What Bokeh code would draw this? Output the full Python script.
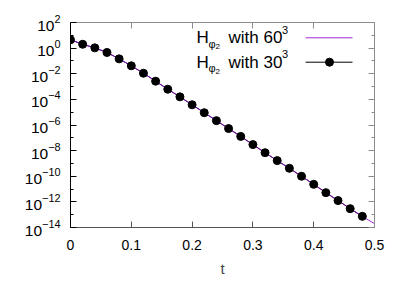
from bokeh.plotting import figure
from bokeh.models import (FixedTicker, LogAxis, LinearAxis, Label, ColumnDataSource,
                          CustomJSTickFormatter)
from bokeh.embed import file_html
from bokeh.resources import INLINE

# ---- data ----
t30 = [0.00, 0.02, 0.04, 0.06, 0.08, 0.10, 0.12, 0.14, 0.16, 0.18, 0.20, 0.22,
       0.24, 0.26, 0.28, 0.30, 0.32, 0.34, 0.36, 0.38, 0.40, 0.42, 0.44, 0.46, 0.48]
h30 = [4.47, 2.0, 1.05, 0.457, 0.145, 4.17e-2, 1.10e-2, 2.63e-3, 6.17e-4, 1.58e-4,
       3.8e-5, 9.1e-6, 2.19e-6, 5.25e-7, 1.29e-7, 2.95e-8, 6.92e-9, 1.66e-9,
       4.17e-10, 1.0e-10, 2.34e-11, 5.25e-12, 1.26e-12, 2.95e-13, 7.41e-14]
t60 = [0.00, 0.02, 0.04, 0.06, 0.08, 0.10, 0.12, 0.14, 0.16, 0.18, 0.20, 0.22,
       0.24, 0.26, 0.28, 0.30, 0.32, 0.34, 0.36, 0.38, 0.40, 0.42, 0.44, 0.46, 0.48, 0.50]
h60 = [4.47, 2.0, 1.05, 0.457, 0.145, 4.17e-2, 1.10e-2, 2.63e-3, 6.17e-4, 1.58e-4,
       3.8e-5, 9.1e-6, 2.19e-6, 5.25e-7, 1.29e-7, 2.95e-8, 6.92e-9, 1.66e-9,
       4.17e-10, 1.0e-10, 2.34e-11, 5.25e-12, 1.26e-12, 2.95e-13, 7.41e-14, 2.0e-14]
x_ticks = [0, 0.1, 0.2, 0.3, 0.4, 0.5]
y_major = [1e2, 1e0, 1e-2, 1e-4, 1e-6, 1e-8, 1e-10, 1e-12, 1e-14]
y_minor = [1e1, 1e-1, 1e-3, 1e-5, 1e-7, 1e-9, 1e-11, 1e-13]

FONT = "Liberation Sans"
PURPLE = "#9400d3"

# frame at page pixels x 70..374, y 22..227
p = figure(frame_width=304, frame_height=205,
           min_border_left=70, min_border_top=22, min_border_right=30, min_border_bottom=56,
           x_range=(0, 0.5), y_range=(1e-14, 1e2), y_axis_type="log",
           output_backend="svg", toolbar_location=None)
p.xgrid.visible = False
p.ygrid.visible = False
p.outline_line_color = None
p.background_fill_color = "white"
p.border_fill_color = "white"

xt = FixedTicker(ticks=x_ticks, minor_ticks=[])
yt = FixedTicker(ticks=y_major, minor_ticks=y_minor)

def style(ax, color):
    ax.axis_line_color = color
    ax.major_tick_line_color = color
    ax.minor_tick_line_color = color
    ax.major_tick_in = 6
    ax.major_tick_out = 0
    ax.minor_tick_in = 3
    ax.minor_tick_out = 0
    ax.major_label_text_font = FONT
    ax.major_label_text_color = "black"

xa = p.xaxis[0]
xa.ticker = xt
style(xa, "#555555")
xa.major_label_text_font_size = "14px"
xa.major_label_standoff = 12
xa.axis_label = "t"
xa.axis_label_text_font = FONT
xa.axis_label_text_font_size = "15px"
xa.axis_label_text_font_style = "normal"
xa.axis_label_standoff = 7

ya = p.yaxis[0]
ya.ticker = yt
style(ya, "black")
ya.major_label_text_font_size = "15.5px"
ya.major_label_standoff = 10

blank = CustomJSTickFormatter(code="return ''")
top = LinearAxis(ticker=xt, formatter=blank)
style(top, "#8c8c8c")
top.major_label_standoff = 0
p.add_layout(top, "above")
right = LogAxis(ticker=yt, formatter=blank)
style(right, "#8c8c8c")
right.major_label_standoff = 0
p.add_layout(right, "right")

src30 = ColumnDataSource(dict(t=t30, h=h30))
src60 = ColumnDataSource(dict(t=t60, h=h60))
p.line("t", "h", source=src30, line_color="black", line_width=1)
p.line("t", "h", source=src60, line_color=PURPLE, line_width=1, line_alpha=0.85)
p.scatter("t", "h", source=src30, marker="circle", size=8, fill_color="black", line_color="black")

# ---- manual legend (page pixel positions converted to data coords) ----
def dx(px):
    return (px - 70) / 304 * 0.5

def dy(py):
    return 10 ** (2 - (py - 22) / 12.8125)

def add_text(txt, px, py, size):
    p.add_layout(Label(x=dx(px), y=dy(py), text=txt, text_font=FONT,
                       text_font_size=size, text_baseline="middle", text_align="left",
                       text_color="black"))

rows = [(37.3, "60"), (61.7, "30")]
for py, n in rows:
    add_text("H", 196, py, "17px")
    add_text("\u03c6", 208, py + 6, "11px")
    add_text("2", 215, py + 9, "8px")
    add_text("with " + n, 228, py, "17px")
    add_text("3", 281.5, py - 8, "11px")

leg_x = [dx(305), dx(352)]
p.line(leg_x, [dy(37.3), dy(37.3)], line_color=PURPLE, line_width=1, line_alpha=0.85)
p.line(leg_x, [dy(61.7), dy(61.7)], line_color="black", line_width=1)
p.scatter([dx(329)], [dy(61.7)], marker="circle", size=8, fill_color="black", line_color="black")

open("out.html", "w").write(file_html(p, INLINE))
